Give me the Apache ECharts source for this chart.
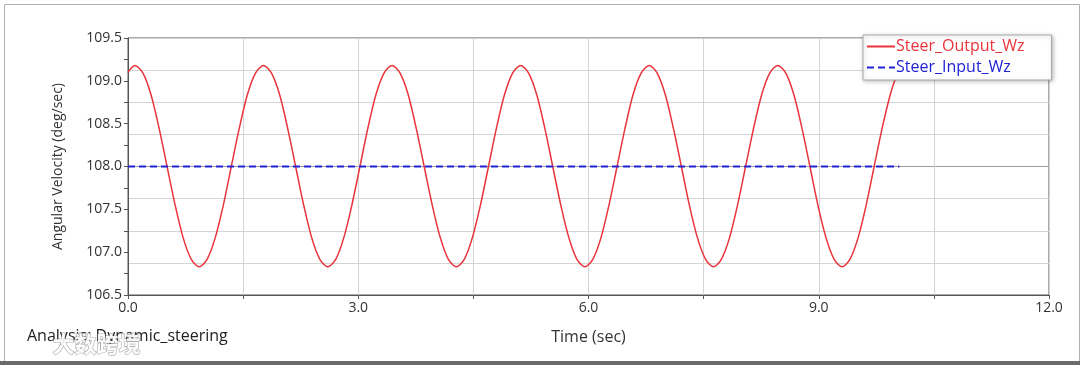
<!DOCTYPE html>
<html>
<head>
<meta charset="utf-8">
<script src="https://cdn.jsdelivr.net/npm/echarts@6/dist/echarts.min.js"></script>
<style>
html,body{margin:0;padding:0;background:#fff;}
#chart{width:1080px;height:365px;}
</style>
</head>
<body>
<div id="chart"></div>
<script>
// ---- data ----
const outputTime = [0.00,
  0.09, 0.195, 0.299, 0.404, 0.509, 0.614, 0.718, 0.823, 0.928, 1.032, 1.137, 1.242, 1.346, 1.451, 1.556, 1.661,
  1.765, 1.870, 1.975, 2.079, 2.184, 2.289, 2.393, 2.498, 2.603, 2.708, 2.812, 2.917, 3.022, 3.126, 3.231, 3.336,
  3.440, 3.545, 3.650, 3.754, 3.859, 3.964, 4.069, 4.173, 4.278, 4.383, 4.487, 4.592, 4.697, 4.801, 4.906, 5.011,
  5.116, 5.220, 5.325, 5.430, 5.534, 5.639, 5.744, 5.848, 5.953, 6.058, 6.163, 6.267, 6.372, 6.477, 6.581, 6.686,
  6.791, 6.895, 7.000, 7.105, 7.210, 7.314, 7.419, 7.524, 7.628, 7.733, 7.838, 7.942, 8.047, 8.152, 8.257, 8.361,
  8.466, 8.571, 8.675, 8.780, 8.885, 8.989, 9.094, 9.199, 9.304, 9.408, 9.513, 9.618, 9.722, 9.827, 9.932,
  10.00];
const outputWz = [109.10,
  109.18, 109.09, 108.84, 108.45, 108.00, 107.55, 107.17, 106.92, 106.83, 106.92, 107.17, 107.55, 108.00, 108.45, 108.84, 109.09,
  109.18, 109.09, 108.84, 108.45, 108.00, 107.55, 107.17, 106.92, 106.83, 106.92, 107.17, 107.55, 108.00, 108.45, 108.84, 109.09,
  109.18, 109.09, 108.84, 108.45, 108.00, 107.55, 107.17, 106.92, 106.83, 106.92, 107.17, 107.55, 108.00, 108.45, 108.84, 109.09,
  109.18, 109.09, 108.84, 108.45, 108.00, 107.55, 107.17, 106.92, 106.83, 106.92, 107.17, 107.55, 108.00, 108.45, 108.84, 109.09,
  109.18, 109.09, 108.84, 108.45, 108.00, 107.55, 107.17, 106.92, 106.83, 106.92, 107.17, 107.55, 108.00, 108.45, 108.84, 109.09,
  109.18, 109.09, 108.84, 108.45, 108.00, 107.55, 107.17, 106.92, 106.83, 106.92, 107.17, 107.55, 108.00, 108.45, 108.84,
  109.03];
const inputTime = [0.00, 10.05];
const inputWz = [108.00, 108.00];
const seriesNames = ['Steer_Output_Wz', 'Steer_Input_Wz'];
const xLabels = ['0.0', '3.0', '6.0', '9.0', '12.0'];
const yLabels = ['106.5', '107.0', '107.5', '108.0', '108.5', '109.0', '109.5'];
const xAxisName = 'Time (sec)';
const yAxisName = 'Angular Velocity (deg/sec)';
const footnote = 'Analysis: Dynamic_steering';
const watermark = '大数跨境';

const FONT = '"Open Sans", "Noto Sans", sans-serif';
const RED = '#e8343a';
const BLUE = '#2024d4';

const chart = echarts.init(document.getElementById('chart'));
const gridColors = ['#d4d4d4','#d4d4d4','#d4d4d4','#d4d4d4','#9a9a9a','#d4d4d4','#d4d4d4','#d4d4d4','#d4d4d4'];

chart.setOption({
  animation: false,
  backgroundColor: '#fff',
  grid: { left: 128, right: 31, top: 38, bottom: 70, show: true, borderColor: '#555', borderWidth: 1 },
  legend: {
    orient: 'vertical', left: 863, top: 35,
    backgroundColor: '#fff', borderColor: '#aaa', borderWidth: 1,
    shadowBlur: 4, shadowColor: 'rgba(0,0,0,0.25)', shadowOffsetX: 1, shadowOffsetY: 1,
    padding: [1, 27, 2, 3], itemGap: 0, itemWidth: 28, itemHeight: 14,
    itemStyle: { opacity: 0 },
    data: [
      { name: seriesNames[0], textStyle: { color: RED } },
      { name: seriesNames[1], textStyle: { color: BLUE } }
    ],
    textStyle: { fontFamily: FONT, fontSize: 16, lineHeight: 21, padding: [0, 0, 0, -4] }
  },
  xAxis: [{
    type: 'value', min: 0, max: 12, interval: 1.5,
    name: xAxisName, nameLocation: 'middle', nameGap: 34,
    nameTextStyle: { fontFamily: FONT, fontSize: 16, color: '#333' },
    axisLine: { show: true, lineStyle: { color: '#555' } },
    axisTick: { show: true, length: 4, lineStyle: { color: '#555' } },
    axisLabel: {
      fontFamily: FONT, fontSize: 14, color: '#333', margin: 6,
      formatter: v => { const s = v.toFixed(1); return xLabels.indexOf(s) >= 0 ? s : ''; }
    },
    splitLine: { show: true, lineStyle: { color: '#d4d4d4' } }
  }],
  yAxis: [{
    type: 'value', min: 106.5, max: 109.5, interval: 0.25,
    name: yAxisName, nameLocation: 'middle', nameGap: 63,
    nameTextStyle: { fontFamily: FONT, fontSize: 14, color: '#333' },
    axisLine: { show: true, lineStyle: { color: '#555' } },
    axisTick: { show: true, length: 4, lineStyle: { color: '#555' } },
    axisLabel: {
      fontFamily: FONT, fontSize: 14, color: '#333', margin: 6,
      formatter: v => { const s = v.toFixed(1); return (yLabels.indexOf(s) >= 0 && Math.abs(v*2 - Math.round(v*2)) < 1e-6) ? s : ''; }
    },
    splitLine: { show: false }
  }, {
    type: 'value', min: 106.5, max: 109.5, interval: 0.375, position: 'left',
    axisLine: { show: false }, axisTick: { show: false }, axisLabel: { show: false },
    splitLine: { show: true, lineStyle: { color: gridColors } }
  }],
  series: [{
    name: seriesNames[0], type: 'line', symbol: 'none', smooth: 0.3,
    data: outputTime.map((t, i) => [t, outputWz[i]]),
    lineStyle: { color: RED, width: 1.5 }, itemStyle: { color: RED }, z: 3
  }, {
    name: seriesNames[1], type: 'line', symbol: 'none',
    data: inputTime.map((t, i) => [t, inputWz[i]]),
    lineStyle: { color: BLUE, width: 2, type: [7, 4] }, itemStyle: { color: BLUE }, z: 4
  }],
  graphic: [
    { type: 'rect', left: 2, top: 2, shape: { width: 1075, height: 359 }, style: { fill: 'none', stroke: '#b0b0b0', lineWidth: 1 }, z: -10, silent: true },
    { type: 'rect', left: 0, top: 361, shape: { width: 1080, height: 4 }, style: { fill: '#6a6a6a' }, silent: true },
    { type: 'text', left: 27, top: 328, style: { text: footnote, font: '16px ' + FONT, fill: '#222' }, silent: true },
    { type: 'text', left: 52, top: 332, style: { text: watermark, font: 'bold 22px "Noto Sans CJK SC"', fill: 'rgba(255,255,255,0.9)', stroke: 'rgba(110,110,110,0.55)', lineWidth: 1.2 }, silent: true }
  ]
});
</script>
</body>
</html>
